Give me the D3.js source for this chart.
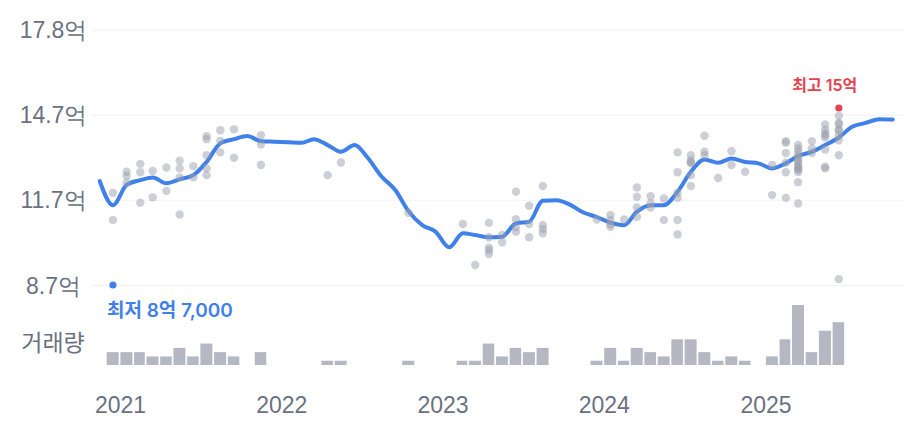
<!DOCTYPE html>
<html>
<head>
<meta charset="utf-8">
<script src="https://d3js.org/d3.v7.min.js"></script>
<style>
  body { margin: 0; background: #ffffff; }
  svg { display: block; font-family: Inter, "Noto Sans CJK KR", sans-serif; }
  .grid line { stroke: #f1f2f4; stroke-width: 1.2; }
  .axis text { fill: #6b7180; font-size: 23px; }
  .price-line { fill: none; stroke: #3f80ea; stroke-width: 4; stroke-linejoin: round; stroke-linecap: round; }
  .deal { fill: #9aa0ab; fill-opacity: 0.5; }
  .vol { fill: #b5b8c2; }
</style>
</head>
<body>
<div id="chart"></div>
<script>
// smoothed price line, one value per month (억)
var lineMonths = ["2020-11","2020-12","2021-01","2021-02","2021-03","2021-04","2021-05","2021-06","2021-07","2021-08","2021-09","2021-10","2021-11","2021-12",
  "2022-01","2022-02","2022-03","2022-04","2022-05","2022-06","2022-07","2022-08","2022-09","2022-10","2022-11","2022-12",
  "2023-01","2023-02","2023-03","2023-04","2023-05","2023-06","2023-07","2023-08","2023-09","2023-10","2023-11","2023-12",
  "2024-01","2024-02","2024-03","2024-04","2024-05","2024-06","2024-07","2024-08","2024-09","2024-10","2024-11","2024-12",
  "2025-01","2025-02","2025-03","2025-04","2025-05","2025-06","2025-07","2025-08","2025-09","2025-10"];
var lineValues = [12.40,11.54,12.26,12.43,12.53,12.32,12.46,12.61,13.08,13.74,13.89,14.00,13.82,13.80,
  13.78,13.76,13.89,13.68,13.44,13.68,13.22,12.56,12.08,11.33,10.83,10.60,
  10.04,10.54,10.48,10.40,10.42,10.89,10.95,11.70,11.72,11.56,11.28,11.12,
  10.92,10.83,11.31,11.54,11.54,12.02,12.73,13.17,13.05,13.20,13.08,13.03,
  12.85,13.03,13.29,13.44,13.68,13.95,14.33,14.47,14.60,14.59];

// individual deals per month (억)
var dealMonths = ["2020-12","2021-01","2021-02","2021-03","2021-04","2021-05","2021-06","2021-07","2021-08","2021-09","2021-11",
  "2022-04","2022-05","2022-10","2023-02","2023-03","2023-04","2023-05","2023-06","2023-07","2023-08",
  "2023-12","2024-01","2024-02","2024-03","2024-04","2024-05","2024-06","2024-07","2024-08","2024-09","2024-10","2024-11",
  "2025-01","2025-02","2025-03","2025-04","2025-05","2025-06"];
var dealPrices = [
  [11.98,11.01,8.7],
  [12.73,12.58,12.33],
  [13.01,12.71,11.63],
  [12.76,11.82],
  [12.88,12.05],
  [13.12,12.85,12.53,11.21],
  [12.93,12.53],
  [14.00,13.89,13.32,12.85,12.61],
  [14.21,13.83,13.42],
  [14.24,13.23],
  [14.03,13.70,12.97],
  [12.61],
  [13.06],
  [11.27],
  [10.87],
  [9.41],
  [10.91,10.40,10.03,9.94,9.80],
  [10.48,10.22],
  [12.02,11.04,10.75,10.59],
  [11.52,10.87,10.40],
  [12.22,10.83,10.69,10.54],
  [11.03],
  [11.19,11.01,10.86,10.77],
  [11.03],
  [12.17,11.84,11.46,11.13],
  [11.86,11.60,11.46],
  [11.78,11.01],
  [13.42,12.71,11.98,11.80,11.01,10.50],
  [13.32,13.14,13.05,13.05,12.61,12.22],
  [14.01,13.44,13.32],
  [12.51],
  [13.46,12.97],
  [12.73],
  [12.97,11.90],
  [13.82,13.76,13.40,13.05,12.71,11.80],
  [13.68,13.56,13.44,13.32,13.24,13.14,13.07,12.97,12.89,12.85,12.79,12.72,12.36,11.60],
  [13.82,13.56,13.40],
  [14.41,14.23,14.10,14.03,13.95,13.52,12.91,12.85],
  [15.0,14.72,14.47,14.42,14.24,14.19,14.03,13.85,13.32,8.91]
];

// monthly deal counts (거래량)
var volMonths = ["2020-12","2021-01","2021-02","2021-03","2021-04","2021-05","2021-06","2021-07","2021-08","2021-09","2021-11",
  "2022-04","2022-05","2022-10","2023-02","2023-03","2023-04","2023-05","2023-06","2023-07","2023-08",
  "2023-12","2024-01","2024-02","2024-03","2024-04","2024-05","2024-06","2024-07","2024-08","2024-09","2024-10","2024-11",
  "2025-01","2025-02","2025-03","2025-04","2025-05","2025-06"];
var volCounts = [3,3,3,2,2,4,2,5,3,2,3, 1,1,1,1,1,5,2,4,3,4, 1,4,1,4,3,2,6,6,3,1,2,1, 2,6,14,3,8,10];

var yTickValues = [8.7, 8.7 + 9.1/3, 8.7 + 9.1*2/3, 17.8];
var yTickLabels = ["8.7억","11.7억","14.7억","17.8억"];
var xYears = [2021, 2022, 2023, 2024, 2025];

var lowLabel = "최저 8억 7,000";
var highLabel = "최고 15억";
var volLabel = "거래량";

var W = 908, H = 434;
var parseMonth = d3.timeParse("%Y-%m");
var mid = function(s) { var d = parseMonth(s); return new Date(d.getFullYear(), d.getMonth(), 16); };
var start = function(s) { return parseMonth(s); };
var end = function(s) { return d3.timeMonth.offset(parseMonth(s), 1); };

var x = d3.scaleTime()
  .domain([new Date(2021, 0, 1), new Date(2025, 0, 1)])
  .range([120, 765.5]);
var y = d3.scaleLinear().domain([8.7, 17.8]).range([285, 29.3]);
var vol = d3.scaleLinear().domain([0, 14]).range([0, 60]);
var volBase = 365;

var svg = d3.select("#chart").append("svg")
  .attr("width", W).attr("height", H);

// gridlines + y labels
var yAxis = d3.axisLeft(y).tickValues(yTickValues)
  .tickSize(-812)
  .tickFormat(function(d, i) { return yTickLabels[i]; });
var gy = svg.append("g").attr("class", "axis grid").attr("transform", "translate(93,0)").call(yAxis);
gy.select(".domain").remove();
gy.selectAll("text").attr("x", -39.5).attr("text-anchor", "middle").attr("dy", "0.35em");

// x year labels
var xAxis = d3.axisBottom(x)
  .tickValues(xYears.map(function(yr) { return new Date(yr, 0, 1); }))
  .tickSize(0)
  .tickFormat(d3.timeFormat("%Y"));
var gx = svg.append("g").attr("class", "axis").attr("transform", "translate(0,405)").call(xAxis);
gx.select(".domain").remove();
gx.selectAll("text").attr("y", 0).attr("dy", "0.35em");

// volume label + bars
svg.append("text").attr("class", "axis")
  .attr("x", 53).attr("y", 343).attr("dy", "0.35em")
  .attr("text-anchor", "middle")
  .style("fill", "#6b7180").style("font-size", "23px")
  .text(volLabel);

svg.selectAll(".vol").data(volMonths).enter().append("rect")
  .attr("class", "vol")
  .attr("x", function(d) { return x(start(d)) + 0.4; })
  .attr("width", function(d) { return x(end(d)) - x(start(d)) - 1.7; })
  .attr("y", function(d, i) { return volBase - vol(volCounts[i]); })
  .attr("height", function(d, i) { return vol(volCounts[i]); });

// price line
var line = d3.line()
  .curve(d3.curveMonotoneX)
  .x(function(d) { return x(mid(d)); })
  .y(function(d, i) { return y(lineValues[i]); });
svg.append("path").attr("class", "price-line").attr("d", line(lineMonths));

// deals
var deals = [];
dealMonths.forEach(function(m, i) {
  dealPrices[i].forEach(function(p) { deals.push({ m: m, p: p }); });
});
var low = d3.least(deals, function(d) { return d.p; });
var high = d3.greatest(deals, function(d) { return d.p; });

svg.selectAll(".deal").data(deals.filter(function(d) { return d !== low && d !== high; }))
  .enter().append("circle")
  .attr("class", "deal")
  .attr("cx", function(d) { return x(mid(d.m)); })
  .attr("cy", function(d) { return y(d.p); })
  .attr("r", 4.2);

// low / high markers
svg.append("circle").attr("cx", x(mid(low.m))).attr("cy", y(low.p)).attr("r", 3.6).attr("fill", "#3f80ea");
svg.append("text")
  .attr("x", x(mid(low.m)) - 6).attr("y", y(low.p) + 25).attr("dy", "0.35em")
  .style("fill", "#3f80ea").style("font-size", "19px").style("font-weight", 600)
  .text(lowLabel);

svg.append("circle").attr("cx", x(mid(high.m))).attr("cy", y(high.p)).attr("r", 3.6).attr("fill", "#e8414f");
svg.append("text")
  .attr("x", x(mid(high.m)) - 14).attr("y", y(high.p) - 23).attr("dy", "0.35em")
  .attr("text-anchor", "middle")
  .style("fill", "#e8414f").style("font-size", "16px").style("font-weight", 600)
  .text(highLabel);
</script>
</body>
</html>
